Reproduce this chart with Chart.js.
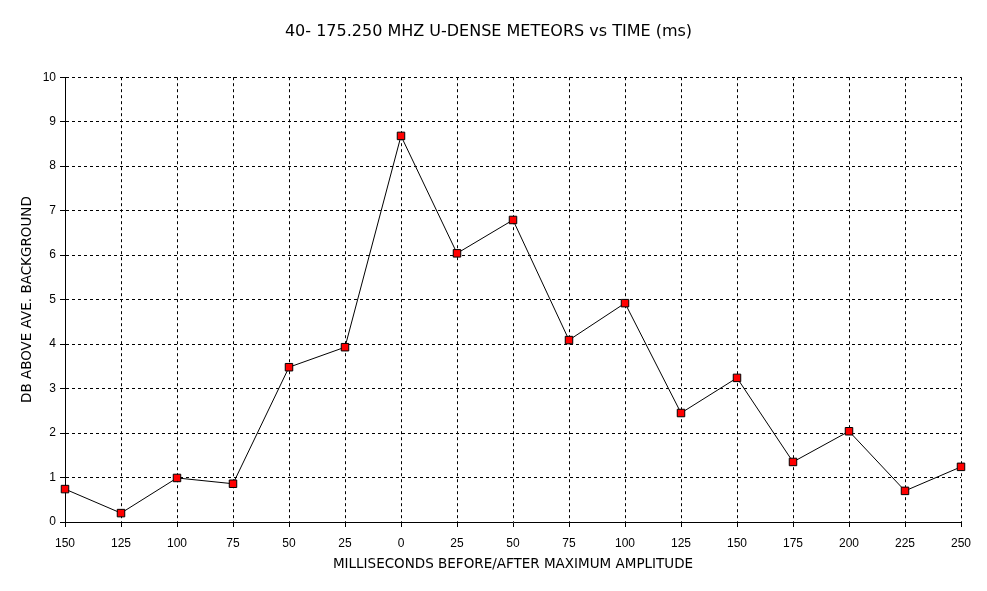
<!DOCTYPE html>
<html>
<head>
<meta charset="utf-8">
<script src="https://cdn.jsdelivr.net/npm/chart.js@4.4.1/dist/chart.umd.min.js"></script>
<style>
  html, body { margin: 0; padding: 0; background: #fff; }
  #wrap { width: 987px; height: 591px; }
</style>
</head>
<body>
<div id="wrap"><canvas id="meteorChart"></canvas></div>
<script>
// milliseconds before/after max amplitude (before values shown unsigned on the axis)
const tiempos = ['150', '125', '100', '75', '50', '25', '0', '25', '50', '75', '100', '125', '150', '175', '200', '225', '250'];
const dbSobreFondo = [0.74, 0.2, 0.99, 0.86, 3.48, 3.93, 8.68, 6.04, 6.79, 4.09, 4.92, 2.45, 3.24, 1.35, 2.04, 0.7, 1.24];
const yMin = 0;
const yMax = 10;
const yPaso = 1;

const fuente = "'Liberation Sans', Arial, sans-serif";
const fuenteAncha = "'DejaVu Sans', Verdana, sans-serif";

const ctx = document.getElementById('meteorChart').getContext('2d');
const meteorChart = new Chart(ctx, {
    type: 'line',
    data: {
        labels: tiempos,
        datasets: [{
            label: 'DB',
            data: dbSobreFondo,
            borderColor: '#000',
            borderWidth: 1,
            tension: 0,
            pointStyle: 'rect',
            pointRadius: 5.3,
            pointHoverRadius: 5.3,
            pointBackgroundColor: '#ff0000',
            pointBorderColor: '#000',
            pointBorderWidth: 1
        }]
    },
    options: {
        responsive: true,
        maintainAspectRatio: false,
        animation: false,
        events: [],
        layout: { padding: { left: 16, right: 26, top: 0, bottom: 10 } },
        plugins: {
            legend: { display: false },
            tooltip: { enabled: false },
            title: {
                display: true,
                text: '40- 175.250 MHZ U-DENSE METEORS vs TIME (ms)',
                color: '#000',
                font: { family: fuenteAncha, size: 16, weight: 'normal' },
                padding: { top: 22, bottom: 36 }
            }
        },
        scales: {
            x: {
                type: 'category',
                offset: false,
                grid: {
                    offset: false,
                    color: '#000',
                    tickLength: 5,
                    tickColor: '#000',
                    tickBorderDash: []
                },
                border: { display: true, color: '#000', width: 1, dash: [3, 3] },
                ticks: {
                    color: '#000',
                    font: { family: fuente, size: 12 },
                    padding: 9,
                    maxRotation: 0,
                    autoSkip: false
                },
                title: {
                    display: true,
                    text: 'MILLISECONDS BEFORE/AFTER MAXIMUM AMPLITUDE',
                    color: '#000',
                    font: { family: fuenteAncha, size: 13.5 },
                    padding: { top: 4, bottom: 8 }
                },
                afterFit: function (scale) { scale.height = 59; }
            },
            y: {
                min: yMin,
                max: yMax,
                grid: {
                    color: '#000',
                    tickLength: 5,
                    tickColor: '#000',
                    tickBorderDash: []
                },
                border: { display: true, color: '#000', width: 1, dash: [3, 3] },
                ticks: {
                    stepSize: yPaso,
                    color: '#000',
                    font: { family: fuente, size: 12 },
                    padding: 4
                },
                title: {
                    display: true,
                    text: 'DB ABOVE AVE. BACKGROUND',
                    color: '#000',
                    font: { family: fuenteAncha, size: 13.5 },
                    padding: { top: 3, bottom: 4 }
                },
                afterFit: function (scale) { scale.width = 49; }
            }
        }
    }
});
</script>
</body>
</html>
